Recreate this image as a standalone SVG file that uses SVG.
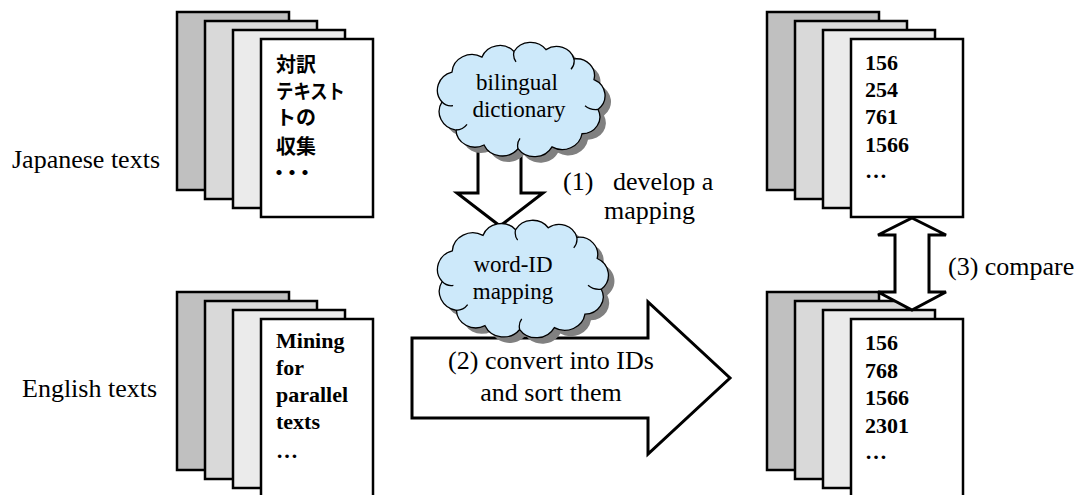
<svg xmlns="http://www.w3.org/2000/svg" xmlns:xlink="http://www.w3.org/1999/xlink" width="1078" height="495" viewBox="0 0 1078 495">
  <style>
    .page { stroke:#000; stroke-width:2.5; }
    .p1 { fill:#c0c0c0; }
    .p2 { fill:#d9d9d9; }
    .p3 { fill:#ebebeb; }
    .p4 { fill:#ffffff; }
    .arrow { fill:#fff; stroke:#000; stroke-width:3; stroke-linejoin:miter; }
    .cloud { fill:#cde9fa; stroke:#000; stroke-width:1.3; }
    .shadow { fill:#808080; stroke:none; }
    .curl { fill:none; stroke:#000; stroke-width:1.3; }
    .lbl { font-family:"Liberation Serif","Times New Roman",serif; font-size:26px; fill:#000; }
    .cl { font-family:"Liberation Serif","Times New Roman",serif; font-size:23px; fill:#000; text-anchor:middle; }
    .doc { font-family:"Liberation Serif","Times New Roman",serif; font-size:22px; font-weight:bold; fill:#000; }
    .jp { font-family:"Liberation Sans","Noto Sans CJK JP",sans-serif; font-size:20px; font-weight:bold; fill:#000; }
  </style>
  <defs>
    <!-- cloud outline in local coordinates, bumps drawn clockwise -->
    <path id="cloudShape" vector-effect="non-scaling-stroke" d="M8,62 A20,20 0 0 1 18,30 A20,20 0 0 1 48,14 A19,19 0 0 1 80,8 A19,19 0 0 1 112,6 A18,18 0 0 1 140,16 A18,18 0 0 1 160,38 A19,19 0 0 1 164,70 A18,18 0 0 1 148,96 A20,20 0 0 1 118,110 A20,20 0 0 1 84,112 A20,20 0 0 1 50,108 A19,19 0 0 1 22,92 A20,20 0 0 1 8,62 Z"/>
    <!-- small inner curls at the bump joints -->
    <path id="cloudCurls" fill="none" vector-effect="non-scaling-stroke" d="M8,62 A12,12 0 0 0 19,66 M80,8 A14,14 0 0 0 82,19 M140,16 A14,14 0 0 1 137,27 M164,70 A16,16 0 0 1 151,66 M84,112 A14,14 0 0 1 86,101 M22,92 A14,14 0 0 0 33,86"/>
  </defs>

  <!-- side labels -->
  <text class="lbl" x="12" y="168">Japanese texts</text>
  <text class="lbl" x="22" y="397">English texts</text>

  <!-- Japanese document stack -->
  <g id="japanese-docs">
    <rect class="page p1" x="177" y="12" width="112" height="178"/>
    <rect class="page p2" x="205" y="21" width="112" height="178"/>
    <rect class="page p3" x="233" y="30" width="112" height="178"/>
    <rect class="page p4" x="261" y="39" width="112" height="178"/>
    <text class="jp" x="276" y="72">対訳</text>
    <text class="jp" x="276" y="99" textLength="69" lengthAdjust="spacingAndGlyphs">テキスト</text>
    <text class="jp" x="276" y="125">トの</text>
    <text class="jp" x="276" y="154">収集</text>
    <text class="jp" x="269" y="180" letter-spacing="-7">・・・</text>
  </g>

  <!-- English document stack -->
  <g id="english-docs">
    <rect class="page p1" x="177" y="292" width="112" height="178"/>
    <rect class="page p2" x="205" y="301" width="112" height="178"/>
    <rect class="page p3" x="233" y="310" width="112" height="178"/>
    <rect class="page p4" x="261" y="319" width="112" height="178"/>
    <text class="doc" x="276" y="348">Mining</text>
    <text class="doc" x="276" y="375">for</text>
    <text class="doc" x="276" y="402">parallel</text>
    <text class="doc" x="276" y="429">texts</text>
    <text class="doc" x="276" y="458">…</text>
  </g>

  <!-- Japanese ID lists -->
  <g id="japanese-ids">
    <rect class="page p1" x="767" y="12" width="112" height="178"/>
    <rect class="page p2" x="795" y="21" width="112" height="178"/>
    <rect class="page p3" x="823" y="30" width="112" height="178"/>
    <rect class="page p4" x="851" y="39" width="112" height="178"/>
    <text class="doc" x="865" y="70">156</text>
    <text class="doc" x="865" y="97">254</text>
    <text class="doc" x="865" y="124">761</text>
    <text class="doc" x="865" y="152">1566</text>
    <text class="doc" x="865" y="178">…</text>
  </g>

  <!-- English ID lists -->
  <g id="english-ids">
    <rect class="page p1" x="767" y="292" width="112" height="178"/>
    <rect class="page p2" x="795" y="301" width="112" height="178"/>
    <rect class="page p3" x="823" y="310" width="112" height="178"/>
    <rect class="page p4" x="851" y="319" width="112" height="178"/>
    <text class="doc" x="865" y="350">156</text>
    <text class="doc" x="865" y="378">768</text>
    <text class="doc" x="865" y="405">1566</text>
    <text class="doc" x="865" y="433">2301</text>
    <text class="doc" x="865" y="459">…</text>
  </g>

  <!-- block arrows -->
  <g id="connectors">
    <polygon id="develop-arrow" class="arrow" points="478,150 478,193 457,193 500,226 543,193 521,193 521,150"/>
    <polygon id="convert-arrow" class="arrow" points="412,338 648,338 648,302 730,378 648,454 648,418 412,418"/>
    <polygon id="compare-arrow" class="arrow" points="912,218 946,235 929,235 929,292 946,292 912,310 878,292 895,292 895,235 878,235"/>
    <text class="lbl"><tspan x="563" y="190">(1)</tspan><tspan x="613" y="190">develop a</tspan></text>
    <text class="lbl" x="604" y="219">mapping</text>
    <text class="lbl" x="551" y="369" text-anchor="middle">(2) convert into IDs</text>
    <text class="lbl" x="551" y="401" text-anchor="middle">and sort them</text>
    <text class="lbl" x="948" y="275">(3) compare</text>
  </g>

  <!-- bilingual dictionary cloud -->
  <g id="bilingual-dictionary">
    <use xlink:href="#cloudShape" class="shadow" transform="translate(440,50) scale(1,0.935)"/>
    <use xlink:href="#cloudShape" class="cloud" transform="translate(434,44) scale(1,0.935)"/>
    <use xlink:href="#cloudCurls" class="curl" transform="translate(434,44) scale(1,0.935)"/>
    <text class="cl" x="517" y="90">bilingual</text>
    <text class="cl" x="519" y="117">dictionary</text>
  </g>

  <!-- word-ID mapping cloud -->
  <g id="word-id-mapping">
    <use xlink:href="#cloudShape" class="shadow" transform="translate(440,228) scale(1.02,0.96)"/>
    <use xlink:href="#cloudShape" class="cloud" transform="translate(434,222) scale(1.02,0.96)"/>
    <use xlink:href="#cloudCurls" class="curl" transform="translate(434,222) scale(1.02,0.96)"/>
    <text class="cl" x="513" y="272">word-ID</text>
    <text class="cl" x="513" y="299">mapping</text>
  </g>
</svg>
